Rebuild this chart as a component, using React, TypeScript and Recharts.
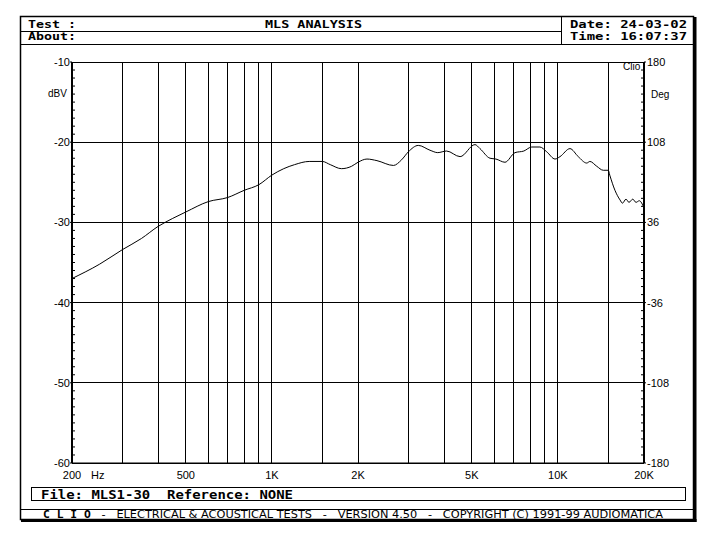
import React from "react";
import { LineChart, Line, XAxis, YAxis, CartesianGrid } from "recharts";

// frequency response (Hz, dBV)
const freqs = [
  200, 250, 300, 350, 400, 450, 500, 600, 700, 800, 900, 1000, 1100, 1200,
  1350, 1500, 1600, 1750, 1900, 2000, 2150, 2330, 2660, 2840, 3000, 3250,
  3570, 3800, 4080, 4550, 5130, 5340, 5790, 6070, 6530, 7080, 7600, 8100,
  8650, 9140, 9770, 10170, 11020, 11780, 12610, 12940, 13670, 14410, 15000,
  15180, 15830, 16490, 16820, 17300, 17720, 18270, 18750, 19260, 20000,
];
const levels = [
  -37.0, -35.2, -33.4, -32.0, -30.5, -29.5, -28.7, -27.4, -26.9, -26.0,
  -25.3, -24.1, -23.3, -22.8, -22.4, -22.4, -22.8, -23.3, -23.0, -22.5,
  -22.1, -22.3, -22.9, -22.2, -21.2, -20.4, -21.0, -21.3, -21.1, -21.8,
  -20.3, -20.8, -22.0, -22.1, -22.5, -21.3, -21.1, -20.6, -20.6, -21.2,
  -22.1, -21.8, -20.8, -21.8, -22.6, -22.4, -23.0, -23.5, -23.5, -24.1,
  -26.0, -27.2, -27.6, -27.1, -27.5, -27.1, -27.5, -27.3, -28.2,
];

const gridFreqs = [
  200, 300, 400, 500, 600, 700, 800, 900, 1000, 1500, 2000, 3000, 4000,
  5000, 6000, 7000, 8000, 9000, 10000, 15000, 20000,
];
const freqLabels: Record<number, string> = {
  200: "200", 500: "500", 1000: "1K", 2000: "2K", 5000: "5K", 10000: "10K", 20000: "20K",
};
const dbGrid = [-60, -50, -40, -30, -20, -10];
const degLabels = [-180, -108, -36, 36, 108, 180];

const data = freqs.map((f, i) => ({ f, db: levels[i] }));

// minor ticks every 1 dB (and the matching 7.2 deg on the phase axis)
const dbTicks = Array.from({ length: 51 }, (_, i) => -60 + i);
const degTicks = Array.from({ length: 51 }, (_, i) => Math.round((-180 + i * 7.2) * 10) / 10);

const tickFont = { fontFamily: "Liberation Sans, Arial, sans-serif", fontSize: 11, fill: "#000" };
const monoFont = "DejaVu Sans Mono, monospace";

const LeftTick = (props: any) => {
  const { x, y, payload } = props;
  const v = payload.value;
  const major = v % 10 === 0;
  return (
    <g>
      <line x1={x} x2={x + (major ? 0 : 3)} y1={y} y2={y} stroke="#000" />
      {major && <line x1={x - 2} x2={x} y1={y} y2={y} stroke="#000" />}
      {major && (
        <text x={x - 2} y={y + 4} textAnchor="end" {...tickFont}>
          {v}
        </text>
      )}
    </g>
  );
};

const RightTick = (props: any) => {
  const { x, y, payload, index } = props;
  const major = index % 10 === 0;
  return (
    <g>
      <line x1={x - (major ? 0 : 3)} x2={x} y1={y} y2={y} stroke="#000" />
      {major && <line x1={x} x2={x + 2} y1={y} y2={y} stroke="#000" />}
      {major && (
        <text x={x + 3} y={y + 4} textAnchor="start" {...tickFont}>
          {degLabels[index / 10] ?? payload.value}
        </text>
      )}
    </g>
  );
};

const FreqTick = (props: any) => {
  const { x, y, payload } = props;
  const label = freqLabels[payload.value];
  if (!label) return <g />;
  return (
    <g>
      <text x={x} y={y + 8} textAnchor="middle" {...tickFont}>
        {label}
      </text>
      {payload.value === 200 && (
        <text x={x + 19} y={y + 8} textAnchor="start" {...tickFont}>
          Hz
        </text>
      )}
    </g>
  );
};

function Frame() {
  return (
    <svg width={719} height={545} style={{ position: "absolute", left: 0, top: 0 }}>
      <rect x={0} y={0} width={719} height={545} fill="#fff" />
      {/* outer frame with heavier right / bottom edge */}
      <rect x={20.5} y={16.5} width={673} height={503} fill="none" stroke="#000" strokeWidth={1.5} />
      <line x1={695} x2={695} y1={17} y2={522} stroke="#000" strokeWidth={3} />
      <line x1={21} x2={696.5} y1={520.5} y2={520.5} stroke="#000" strokeWidth={3} />
      {/* header */}
      <line x1={20} x2={561.5} y1={31.5} y2={31.5} stroke="#000" />
      <line x1={20} x2={694} y1={44.5} y2={44.5} stroke="#000" />
      <line x1={561.5} x2={561.5} y1={17} y2={44} stroke="#000" />
      <g fontFamily={monoFont} fontWeight="bold" fontSize={10} fill="#000">
        <text x={28} y={28} textLength={48} lengthAdjust="spacingAndGlyphs">Test :</text>
        <text x={265} y={28} textLength={97} lengthAdjust="spacingAndGlyphs">MLS ANALYSIS</text>
        <text x={570} y={28} textLength={117} lengthAdjust="spacingAndGlyphs">Date: 24-03-02</text>
        <text x={28} y={40} textLength={48} lengthAdjust="spacingAndGlyphs">About:</text>
        <text x={570} y={40} textLength={117} lengthAdjust="spacingAndGlyphs">Time: 16:07:37</text>
      </g>
      {/* axis captions */}
      <text x={48} y={97} {...tickFont} fontSize={10}>dBV</text>
      <text x={651} y={98} {...tickFont} fontSize={10}>Deg</text>
      <text x={623} y={70} {...tickFont} fontSize={10}>Clio</text>
      {/* file box */}
      <rect x={31.5} y={487.5} width={654} height={13} fill="none" stroke="#000" />
      <text x={41} y={499} fontFamily={monoFont} fontWeight="bold" fontSize={12} fill="#000"
        textLength={252} lengthAdjust="spacingAndGlyphs" xmlSpace="preserve">
        File: MLS1-30  Reference: NONE
      </text>
      {/* footer */}
      <line x1={20} x2={694} y1={509.5} y2={509.5} stroke="#000" />
      <text x={43} y={517.5} fontFamily="DejaVu Sans, sans-serif" fontSize={10} fill="#000"
        textLength={620} lengthAdjust="spacingAndGlyphs" xmlSpace="preserve">
        <tspan fontWeight="bold" fontFamily={monoFont}>C L I O</tspan>
        {"   -   ELECTRICAL & ACOUSTICAL TESTS   -   VERSION 4.50   -   COPYRIGHT (C) 1991-99 AUDIOMATICA"}
      </text>
    </svg>
  );
}

export default function App() {
  return (
    <div style={{ position: "absolute", left: 0, top: 0, width: 719, height: 545, background: "#fff" }}>
      <style>{".recharts-cartesian-grid line{shape-rendering:crispEdges}"}</style>
      <Frame />
      <div style={{ position: "absolute", left: 0, top: 0 }}>
        <LineChart
          width={719}
          height={545}
          data={data}
          margin={{ top: 62, right: 30, bottom: 52, left: 32 }}
        >
          <CartesianGrid
            yAxisId="db"
            stroke="#000"
            horizontalValues={dbGrid}
            verticalValues={gridFreqs}
          />
          <XAxis
            dataKey="f"
            type="number"
            scale="log"
            domain={[200, 20000]}
            ticks={gridFreqs}
            interval={0}
            tick={<FreqTick />}
            tickLine={false}
            axisLine={{ stroke: "#000" }}
            height={30}
            allowDataOverflow
          />
          <YAxis
            yAxisId="db"
            orientation="left"
            domain={[-60, -10]}
            ticks={dbTicks}
            interval={0}
            tick={<LeftTick />}
            tickLine={false}
            tickSize={0}
            tickMargin={0}
            axisLine={{ stroke: "#000", strokeWidth: 2 }}
            width={40}
            allowDataOverflow
          />
          <YAxis
            yAxisId="deg"
            orientation="right"
            domain={[-180, 180]}
            ticks={degTicks}
            interval={0}
            tick={<RightTick />}
            tickLine={false}
            tickSize={0}
            tickMargin={0}
            axisLine={{ stroke: "#000", strokeWidth: 2 }}
            width={45}
            allowDataOverflow
          />
          <Line
            yAxisId="db"
            dataKey="db"
            type="monotone"
            stroke="#000"
            strokeWidth={1}
            dot={false}
            isAnimationActive={false}
          />
        </LineChart>
      </div>
    </div>
  );
}
